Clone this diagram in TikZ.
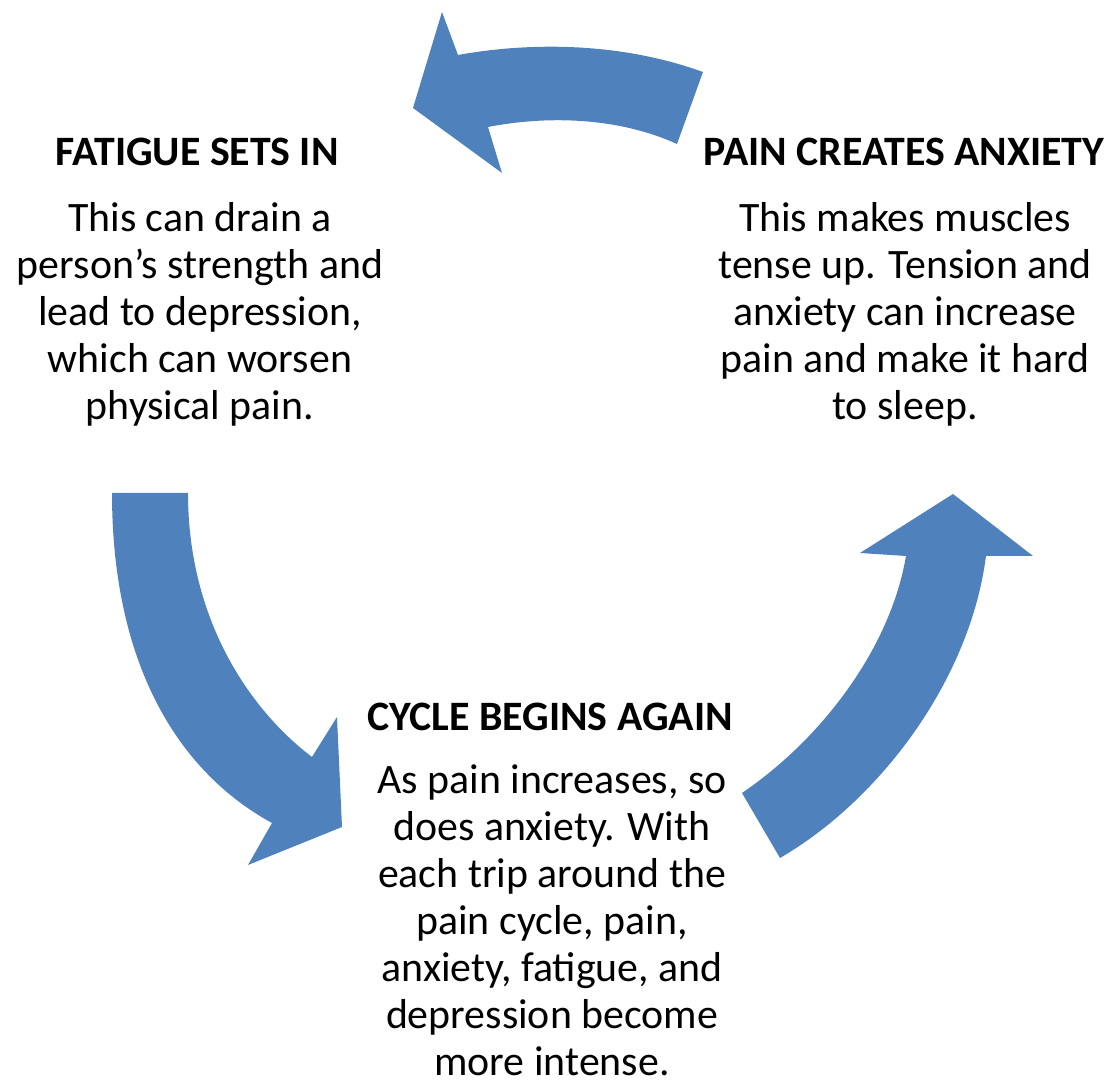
\documentclass[tikz,border=0pt]{standalone}
\usepackage{fontspec}
\setmainfont{Carlito}
\definecolor{cycleblue}{RGB}{79,129,189}
\tikzset{
  cyclearrow/.style={fill=cycleblue, draw=none},
  stagetitle/.style={font=\bfseries\fontsize{11.9}{13.4}\selectfont, inner sep=0pt, anchor=base},
  stagetext/.style={font=\fontsize{11.9}{13.4}\selectfont, align=center, inner sep=0pt, anchor=base},
}
\begin{document}
\begin{tikzpicture}[x=0.01cm, y=-0.01cm]
\useasboundingbox (0,0) rectangle (1111,1080);

% top arrow, from anxiety back to fatigue
\fill[cyclearrow] (703,72) .. controls (620,42) and (530,42) .. (458,55)
  -- (442,12) -- (413,108) -- (502,173) -- (488,127)
  .. controls (550,115) and (620,118) .. (677,144) -- cycle;

% left arrow, fatigue down to the next cycle
\fill[cyclearrow] (112,493) .. controls (112,660) and (175,770) .. (272,823)
  -- (248,865) -- (342,827) -- (337,717) -- (312,757)
  .. controls (250,710) and (188,620) .. (188,493) -- cycle;

% right arrow, cycle up to anxiety
\fill[cyclearrow] (742,793) .. controls (820,740) and (890,650) .. (906,556)
  -- (860,553) -- (953,494) -- (1033,556) -- (986,556)
  .. controls (970,680) and (880,800) .. (780,858) -- cycle;

% the three stages (body nodes sit on their last baseline)
\node[stagetitle] (fatigue) at (197,166) {FATIGUE SETS IN};
\node[stagetext] (fatiguetext) at (200,420) {This can drain a\\ person’s strength and\\ lead to depression,\\ which can worsen\\ physical pain.};

\node[stagetitle] (anxiety) at (904,166) {PAIN CREATES ANXIETY};
\node[stagetext] (anxietytext) at (905,420) {This makes muscles\\ tense up. Tension and\\ anxiety can increase\\ pain and make it hard\\ to sleep.};

\node[stagetitle] (again) at (550,731) {CYCLE BEGINS AGAIN};
\node[stagetext] (againtext) at (552,1076) {As pain increases, so\\ does anxiety. With\\ each trip around the\\ pain cycle, pain,\\ anxiety, fatigue, and\\ depression become\\ more intense.};
\end{tikzpicture}
\end{document}
